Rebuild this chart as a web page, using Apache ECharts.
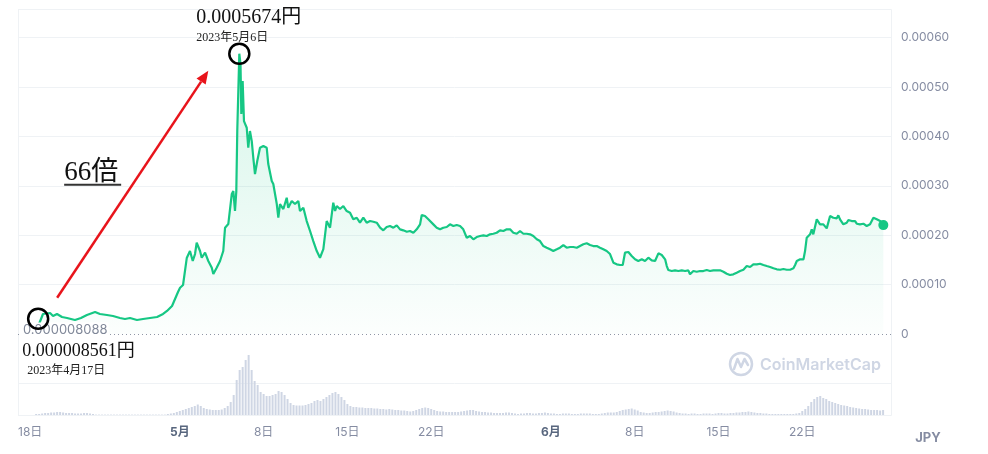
<!DOCTYPE html>
<html>
<head>
<meta charset="utf-8">
<script src="https://cdn.jsdelivr.net/npm/echarts/dist/echarts.min.js"></script>
<style>
html,body{margin:0;padding:0;background:#fff;}
#chart{width:988px;height:454px;}
</style>
</head>
<body>
<div id="chart"></div>
<script>
// ---- Data (days since 2023-05-01, price in JPY) ----
const days = [
-12.00,-11.76,-11.43,-10.84,-10.59,-10.26,-9.84,-9.42,-8.76,-8.26,-7.76,-7.08,-6.67,-6.09,-5.58,-5.00,-4.58,-4.16,-3.58,-3.07,-2.49,-1.90,-1.40,-1.07,-0.65,-0.40,-0.15,
0.02,0.27,0.43,0.58,0.85,1.08,1.27,1.41,1.69,1.83,2.11,2.38,2.67,2.80,3.08,3.36,3.63,3.78,4.05,4.34,4.47,4.61,4.72,4.80,4.97,
5.07,5.14,5.25,5.36,5.59,5.72,5.86,6.01,6.14,6.28,6.47,6.70,6.98,7.26,7.39,7.68,7.81,8.10,8.23,8.37,8.65,8.93,9.06,9.35,9.62,9.90,
10.04,10.32,10.60,10.88,11.15,11.44,11.71,11.99,12.27,12.55,12.82,12.97,13.11,13.38,13.66,13.94,14.22,14.49,14.78,
15.05,15.33,15.61,15.89,16.17,16.45,16.73,17.00,17.28,17.56,17.84,18.12,18.40,18.67,18.96,19.23,19.51,19.79,
20.07,20.21,20.48,20.76,20.90,21.18,21.46,21.74,22.01,22.30,22.57,22.85,23.13,23.41,23.68,23.97,24.24,24.52,24.80,
25.08,25.36,25.64,25.91,26.19,26.47,26.75,27.03,27.31,27.59,27.86,28.15,28.42,28.70,28.98,29.26,29.53,29.82,
30.09,30.37,30.65,30.93,31.20,31.49,31.76,32.04,32.32,32.60,32.87,33.16,33.43,33.71,33.99,34.27,34.54,34.83,
35.10,35.38,35.66,35.94,36.22,36.50,36.78,37.00,37.19,37.47,37.75,38.03,38.30,38.59,38.86,39.14,39.42,39.70,39.98,
40.26,40.54,40.68,40.81,41.09,41.37,41.65,41.93,42.21,42.48,42.62,42.90,43.18,43.46,43.73,44.02,44.29,44.57,44.85,
45.13,45.41,45.69,45.96,46.24,46.52,46.80,47.08,47.36,47.64,47.91,48.20,48.47,48.75,49.03,49.31,49.59,49.87,
50.15,50.42,50.70,50.98,51.26,51.40,51.54,51.82,52.10,52.23,52.37,52.65,52.79,52.92,53.21,53.48,53.76,
54.04,54.32,54.59,54.88,55.01,55.15,55.43,55.71,55.85,56.13,56.41,56.55,56.82,57.10,57.38,57.66,57.94,58.22,58.50,58.77
];
const prices = [
8.561e-6,20.2e-6,40.5e-6,42.5e-6,36.4e-6,40.5e-6,34.4e-6,32.4e-6,28.3e-6,32.4e-6,38.5e-6,44.5e-6,40.5e-6,38.5e-6,36.4e-6,32.4e-6,30.4e-6,32.4e-6,28.3e-6,30.4e-6,32.4e-6,34.4e-6,40.5e-6,46.6e-6,56.7e-6,70.8e-6,85.0e-6,
93.7e-6,99.2e-6,101.2e-6,153.8e-6,168.0e-6,147.8e-6,161.9e-6,184.8e-6,168.0e-6,154.4e-6,164.6e-6,147.8e-6,134.2e-6,121.4e-6,134.2e-6,147.8e-6,168.0e-6,215.2e-6,222.6e-6,283.4e-6,289.4e-6,249.0e-6,289.4e-6,410.9e-6,567.4e-6,
546.5e-6,445.3e-6,512.1e-6,431.1e-6,417.6e-6,377.1e-6,410.9e-6,390.6e-6,356.8e-6,323.8e-6,350.2e-6,377.1e-6,380.5e-6,377.1e-6,344.1e-6,309.7e-6,303.6e-6,263.1e-6,235.4e-6,263.1e-6,253.0e-6,275.9e-6,255.6e-6,269.2e-6,263.1e-6,269.2e-6,
249.0e-6,255.6e-6,228.7e-6,208.5e-6,188.2e-6,168.0e-6,154.4e-6,172.0e-6,228.7e-6,215.2e-6,265.8e-6,249.0e-6,259.1e-6,253.0e-6,259.1e-6,249.0e-6,245.5e-6,232.2e-6,235.4e-6,
225.3e-6,235.4e-6,225.3e-6,228.7e-6,227.3e-6,225.3e-6,215.2e-6,209.9e-6,216.6e-6,218.6e-6,215.2e-6,220.0e-6,211.9e-6,209.9e-6,207.1e-6,208.5e-6,205.0e-6,211.9e-6,
222.0e-6,240.9e-6,238.8e-6,232.2e-6,235.4e-6,222.0e-6,215.2e-6,211.9e-6,215.2e-6,216.6e-6,222.0e-6,218.6e-6,220.6e-6,218.6e-6,211.9e-6,194.9e-6,198.4e-6,191.7e-6,196.3e-6,
198.4e-6,199.8e-6,198.4e-6,201.8e-6,203.0e-6,205.0e-6,209.9e-6,208.5e-6,211.9e-6,211.9e-6,205.0e-6,203.0e-6,208.5e-6,203.0e-6,203.0e-6,201.8e-6,198.4e-6,191.7e-6,
188.2e-6,178.1e-6,174.7e-6,171.4e-6,168.0e-6,171.4e-6,174.7e-6,180.1e-6,174.7e-6,176.1e-6,176.1e-6,174.7e-6,178.1e-6,181.6e-6,183.6e-6,180.1e-6,178.1e-6,178.1e-6,
174.7e-6,171.4e-6,168.0e-6,161.9e-6,144.3e-6,141.1e-6,139.7e-6,139.7e-6,164.6e-6,166.0e-6,157.9e-6,151.2e-6,147.8e-6,151.2e-6,147.8e-6,154.4e-6,149.2e-6,147.8e-6,163.3e-6,
159.9e-6,151.2e-6,137.6e-6,129.5e-6,127.5e-6,128.9e-6,127.5e-6,128.9e-6,127.5e-6,128.9e-6,120.8e-6,127.5e-6,126.1e-6,127.5e-6,127.5e-6,129.5e-6,127.5e-6,128.9e-6,128.9e-6,
128.9e-6,126.1e-6,122.0e-6,119.4e-6,120.8e-6,124.1e-6,127.5e-6,130.1e-6,137.6e-6,135.6e-6,141.1e-6,141.1e-6,142.3e-6,139.7e-6,137.6e-6,135.6e-6,133.0e-6,131.0e-6,
130.1e-6,131.6e-6,130.1e-6,130.1e-6,133.0e-6,139.7e-6,147.8e-6,151.2e-6,151.2e-6,168.0e-6,194.9e-6,201.8e-6,211.9e-6,201.8e-6,232.2e-6,222.0e-6,222.0e-6,
213.9e-6,238.8e-6,235.4e-6,234.2e-6,240.3e-6,232.2e-6,222.0e-6,225.3e-6,230.7e-6,228.7e-6,228.7e-6,223.3e-6,222.0e-6,223.3e-6,218.6e-6,222.0e-6,235.4e-6,232.2e-6,228.7e-6,220.5e-6
];
const minPrice = 0.000008088;
const peakLabel = '0.0005674円';
const peakDate = '2023年5月6日';
const startLabel = '0.000008561円';
const startDate = '2023年4月17日';
const multipleLabel = '66倍';
const currentLabel = '0.00022';

// volume (relative units), one bar every 0.25 day starting at day -12
const volStartDay = -12;
const volStepDays = 0.25;
const volumes = [
1,1,1.5,2,2,2.5,2.5,3,3,2.5,2,2,2,1.5,1.5,1.5,2,2,1.5,1,
0.4,0.4,0.4,0.4,0.4,0.4,0.4,0.4,0.4,0.4,0.4,0.4,0.4,0.4,0.4,0.4,0.4,0.4,0.4,0.4,0.4,0.4,0.4,0.4,
1,1.5,2,3,4,5,
6,7,8,9,10.5,9,7,6,5.5,5,
5,5,5.5,7,9,13,20,35,45,48,
55,60,45,34,30,23,21,19,19,20,
21,24,23,20,16,12,10,9.5,9.5,9.5,
10,11,12,14,15,14,16,18,20,22,
23,21,18,15,11,9,8,8,7.5,7.5,
7,7,7,6.5,6.5,6,6,5.5,6,5.5,
5,5,4.5,4.5,4,3.5,4,5,6,7,
7.5,7,6,5,4,3.5,3.5,3,3,3,
3,3,3.5,4,4.5,5,5,4,3.5,3,3,2.5,2.5,2,2,2,2,2.5,2.5,2,1.5,
1,1.5,1.5,2,2,1.5,1.5,2,2,2.5,2,1.5,1.5,1,1,1.5,1.5,1.5,1,1,1,1.5,1.5,1.5,1.5,1,1,1,1.5,2,2.5,2.5,2.5,
3,4,5,5.5,6,6.5,5.5,4.5,3,2.5,2,2,2.5,3,3,3.5,4,4.5,4,3.5,2.5,2,
1.5,1.5,1,1.5,1.5,1,1,1.5,1.5,1.5,1,1.5,2,2,1.5,1.5,2,2,2.5,2.5,3,
3,3.5,3,2.5,2,2,1.5,1.5,1,1,1,1,1,1,1,1,1,1.5,2,
4,6,9,13,16,18,19,17,16,14,13,12,11,10,9.5,9,8,7.5,7,6.5,6,6,5.5,5,5,5,4.5,5
];

// x-axis ticks
const tickDays = [-12.5, 0, 7, 14, 21, 31, 38, 45, 52];
const tickLabels = ['18日', '5月', '8日', '15日', '22日', '6月', '8日', '15日', '22日'];
const unitLabel = 'JPY';
const watermark = 'CoinMarketCap';

// ---- Layout / style ----
const GREEN = '#16c784';
const GRAY = '#858ca2';
const GRIDC = '#eff2f5';
const SANS = 'Inter, "Noto Sans CJK JP", sans-serif';
const SERIF = '"Liberation Serif", "Noto Sans CJK JP", serif';
const L = 18, R = 97, TOP = 9, MAIN_BOTTOM = 334, VOL_TOP = 351, VOL_BOTTOM = 415;
const X_MIN = -13.517, X_MAX = 59.41;

const chart = echarts.init(document.getElementById('chart'), null, {renderer: 'canvas'});

const priceData = days.map((d, i) => [d, prices[i]]);
const volData = volumes.map((v, i) => [volStartDay + i * volStepDays, v]);
const lastIdx = prices.length - 1;

const option = {
  animation: false,
  backgroundColor: '#fff',
  grid: [
    {left: L, right: R, top: TOP, height: MAIN_BOTTOM - TOP},
    {left: L, right: R, top: VOL_TOP, height: VOL_BOTTOM - VOL_TOP}
  ],
  xAxis: [
    {type: 'value', gridIndex: 0, min: X_MIN, max: X_MAX, show: false},
    {type: 'value', gridIndex: 1, min: X_MIN, max: X_MAX,
      axisLine: {show: false}, axisTick: {show: false}, splitLine: {show: false},
      axisLabel: {
        customValues: tickDays, margin: 11, fontFamily: SANS, fontSize: 12, color: GRAY,
        formatter: function (v) {
          let idx = 0;
          for (let i = 0; i < tickDays.length; i++) if (Math.abs(tickDays[i] - v) < 1e-6) idx = i;
          const t = tickLabels[idx];
          return t.indexOf('月') >= 0 ? '{m|' + t + '}' : '{d|' + t + '}';
        },
        rich: {
          m: {fontWeight: 'bold', color: '#58667e', fontSize: 12, fontFamily: SANS},
          d: {color: GRAY, fontSize: 12, fontFamily: SANS}
        }
      }
    }
  ],
  yAxis: [
    {type: 'value', gridIndex: 0, position: 'right', min: 0, max: 0.000658, interval: 0.0001,
      axisLine: {show: false}, axisTick: {show: false},
      splitLine: {show: true, lineStyle: {color: ['transparent', GRIDC, GRIDC, GRIDC, GRIDC, GRIDC, GRIDC, GRIDC], width: 1}},
      axisLabel: {margin: 10, color: GRAY, fontSize: 12, fontFamily: SANS, showMaxLabel: false,
        formatter: v => (v === 0 ? '0' : v.toFixed(5))}
    },
    {type: 'value', gridIndex: 1, position: 'right', min: 0, max: 64, interval: 32,
      axisLine: {show: false}, axisTick: {show: false}, axisLabel: {show: false},
      splitLine: {show: true, lineStyle: {color: [GRIDC, GRIDC, 'transparent']}}
    }
  ],
  series: [
    {
      type: 'bar', xAxisIndex: 1, yAxisIndex: 1, data: volData, barWidth: 2,
      itemStyle: {color: '#cfd6e4'}, silent: true, z: 1
    },
    {
      type: 'line', xAxisIndex: 0, yAxisIndex: 0, data: priceData, showSymbol: false,
      lineStyle: {color: GREEN, width: 2.2}, itemStyle: {color: GREEN},
      areaStyle: {
        color: new echarts.graphic.LinearGradient(0, 0, 0, 1, [
          {offset: 0, color: 'rgba(22,199,132,0.26)'},
          {offset: 1, color: 'rgba(22,199,132,0.02)'}
        ])
      },
      z: 3,
      markLine: {
        silent: true, symbol: 'none', animation: false,
        data: [
          {yAxis: minPrice, lineStyle: {color: '#8f96a5', type: [1, 3], width: 1}, label: {show: false}},
          {yAxis: prices[lastIdx], lineStyle: {opacity: 0},
            label: {show: true, position: 'end', distance: 1, formatter: currentLabel,
              backgroundColor: GREEN, color: '#fff', fontWeight: 'bold', fontSize: 13,
              fontFamily: SANS, padding: [4, 7, 3, 7]}}
        ]
      },
      markPoint: {
        silent: true, animation: false,
        data: [{coord: [days[lastIdx], prices[lastIdx]], symbol: 'circle', symbolSize: 10,
          itemStyle: {color: GREEN}, label: {show: false}}]
      }
    }
  ]
};
chart.setOption(option);

// ---- Annotations positioned from data ----
let peakIdx = 0;
for (let i = 1; i < prices.length; i++) if (prices[i] > prices[peakIdx]) peakIdx = i;
const finder = {xAxisIndex: 0, yAxisIndex: 0};
const pk = chart.convertToPixel(finder, [days[peakIdx], prices[peakIdx]]);
const st = chart.convertToPixel(finder, [days[0], prices[0]]);
const mn = chart.convertToPixel(finder, [X_MIN, minPrice]);

const A = [st[0] + 21, st[1] - 32];
const B = [pk[0] - 31, pk[1] + 17];
const ang = Math.atan2(B[1] - A[1], B[0] - A[0]);
const hl = 13, hw = 5.5;
const base = [B[0] - hl * Math.cos(ang), B[1] - hl * Math.sin(ang)];
const head = [
  B,
  [base[0] + hw * Math.sin(ang), base[1] - hw * Math.cos(ang)],
  [base[0] - hw * Math.sin(ang), base[1] + hw * Math.cos(ang)]
];

chart.setOption({
  graphic: [
    {type: 'rect', silent: true, z: 0, shape: {x: L + 0.5, y: TOP + 0.5, width: 988 - R - L, height: VOL_BOTTOM - TOP},
      style: {fill: 'none', stroke: GRIDC, lineWidth: 1}},
    // watermark
    {type: 'circle', silent: true, z: 5, shape: {cx: 741, cy: 364, r: 11}, style: {fill: 'none', stroke: '#cfd6e4', lineWidth: 2.5}},
    {type: 'polyline', silent: true, z: 5, shape: {points: [[734, 369], [737.5, 359], [741, 367], [744.5, 359], [748, 365]]},
      style: {fill: 'none', stroke: '#cfd6e4', lineWidth: 2.5, lineJoin: 'round', lineCap: 'round'}},
    {type: 'text', silent: true, z: 5, x: 760, y: 365,
      style: {text: watermark, fill: '#cfd6e4', font: '600 16px ' + SANS, verticalAlign: 'middle', textAlign: 'left'}},
    // min line label
    {type: 'text', silent: true, z: 6, x: mn[0] + 4, y: mn[1],
      style: {text: (minPrice).toFixed(9), fill: '#7f8798', font: '13px ' + SANS, verticalAlign: 'middle',
        textAlign: 'left', backgroundColor: '#fff', padding: [1, 1]}},
    // circles
    {type: 'circle', silent: true, z: 10, shape: {cx: pk[0], cy: pk[1], r: 10}, style: {fill: 'none', stroke: '#000', lineWidth: 2.5}},
    {type: 'circle', silent: true, z: 10, shape: {cx: st[0] + 2, cy: st[1] - 11, r: 10}, style: {fill: 'none', stroke: '#000', lineWidth: 2.5}},
    // arrow
    {type: 'line', silent: true, z: 10, shape: {x1: A[0], y1: A[1], x2: base[0], y2: base[1]}, style: {stroke: '#e8141b', lineWidth: 2.5}},
    {type: 'polygon', silent: true, z: 10, shape: {points: head}, style: {fill: '#e8141b'}},
    // texts
    {type: 'text', silent: true, z: 10, x: pk[0] - 43, y: pk[1] - 36,
      style: {text: peakLabel, fill: '#111', font: '20px ' + SERIF, verticalAlign: 'middle', textAlign: 'left'}},
    {type: 'text', silent: true, z: 10, x: pk[0] - 43, y: pk[1] - 16,
      style: {text: peakDate, fill: '#222', font: '12px ' + SERIF, verticalAlign: 'middle', textAlign: 'left'}},
    {type: 'text', silent: true, z: 10, x: st[0] - 14, y: st[1] + 21,
      style: {text: startLabel, fill: '#111', font: '18px ' + SERIF, verticalAlign: 'middle', textAlign: 'left'}},
    {type: 'text', silent: true, z: 10, x: st[0] - 9, y: st[1] + 41,
      style: {text: startDate, fill: '#222', font: '12px ' + SERIF, verticalAlign: 'middle', textAlign: 'left'}},
    {type: 'text', silent: true, z: 10, x: A[0] + 7, y: A[1] - 125,
      style: {text: multipleLabel, fill: '#111', font: '27px ' + SERIF, verticalAlign: 'middle', textAlign: 'left'}},
    {type: 'line', silent: true, z: 10, shape: {x1: A[0] + 7, y1: A[1] - 113, x2: A[0] + 64, y2: A[1] - 113},
      style: {stroke: '#333', lineWidth: 2}},
    // unit
    {type: 'text', silent: true, z: 10, x: 928, y: 438,
      style: {text: unitLabel, fill: GRAY, font: 'bold 13px ' + SANS, verticalAlign: 'middle', textAlign: 'center'}}
  ]
});
</script>
</body>
</html>
